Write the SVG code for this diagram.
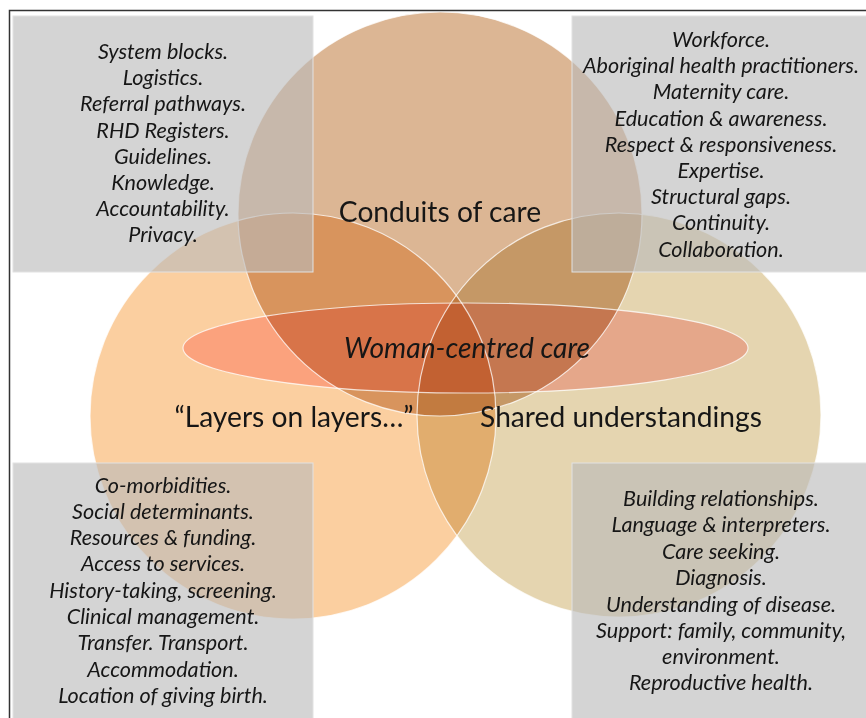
<svg xmlns="http://www.w3.org/2000/svg" width="866" height="718" viewBox="0 0 866 718">
<style>
.fill{mix-blend-mode:multiply}
.edge{fill:none;stroke:#ffffff;stroke-opacity:0.75;stroke-width:1.2}
.box{fill:#b9b9b9;fill-opacity:0.62;stroke:#e2e2e2;stroke-width:1}
.item{font-family:Lato,"Open Sans","Liberation Sans",sans-serif;font-style:italic;font-size:21.6px;fill:#161616;text-anchor:middle}
.label{font-family:Lato,"Open Sans","Liberation Sans",sans-serif;font-size:28.2px;fill:#161616;text-anchor:middle}
</style>
<rect x="0" y="0" width="866" height="718" fill="#ffffff"/>
<g style="isolation:isolate">
  <g id="circle-layers"><circle class="fill" cx="293" cy="416" r="203" fill="#fbcfa0"/></g>
  <g id="circle-shared"><circle class="fill" cx="619" cy="415" r="202" fill="#e5d5b0"/></g>
  <g id="circle-conduits"><circle class="fill" cx="440" cy="214" r="202" fill="#dcb694"/></g>
  <g id="ellipse-woman"><ellipse class="fill" cx="465.5" cy="348" rx="282.5" ry="45" fill="#ffc8c8"/></g>
</g>
<g id="outlines">
  <circle class="edge" cx="293" cy="416" r="203"/>
  <circle class="edge" cx="619" cy="415" r="202"/>
  <circle class="edge" cx="440" cy="214" r="202"/>
  <ellipse class="edge" cx="465.5" cy="348" rx="282.5" ry="45" stroke-opacity="0.95"/>
</g>
<g id="connectors"/>
<g id="labels">
  <text class="label" x="440" y="222">Conduits of care</text>
  <text class="label" x="294" y="427">“Layers on layers…”</text>
  <text class="label" x="621" y="427">Shared understandings</text>
  <text class="label" x="467" y="358" font-style="italic" font-size="29.5px">Woman-centred care</text>
</g>
<g id="box-system">
  <rect class="box" x="13" y="16" width="300" height="256"/>
  <text class="item" x="163" y="59">System blocks.</text>
  <text class="item" x="163" y="85.2">Logistics.</text>
  <text class="item" x="163" y="111.4">Referral pathways.</text>
  <text class="item" x="163" y="137.6">RHD Registers.</text>
  <text class="item" x="163" y="163.8">Guidelines.</text>
  <text class="item" x="163" y="190">Knowledge.</text>
  <text class="item" x="163" y="216.2">Accountability.</text>
  <text class="item" x="163" y="242.4">Privacy.</text>
</g>
<g id="box-workforce">
  <rect class="box" x="572" y="16" width="300" height="256"/>
  <text class="item" x="721" y="47">Workforce.</text>
  <text class="item" x="721" y="73.2">Aboriginal health practitioners.</text>
  <text class="item" x="721" y="99.4">Maternity care.</text>
  <text class="item" x="721" y="125.6">Education &amp; awareness.</text>
  <text class="item" x="721" y="151.8">Respect &amp; responsiveness.</text>
  <text class="item" x="721" y="178">Expertise.</text>
  <text class="item" x="721" y="204.2">Structural gaps.</text>
  <text class="item" x="721" y="230.4">Continuity.</text>
  <text class="item" x="721" y="256.6">Collaboration.</text>
</g>
<g id="box-comorbidities">
  <rect class="box" x="13" y="463" width="300" height="260"/>
  <text class="item" x="163" y="492.5">Co-morbidities.</text>
  <text class="item" x="163" y="518.8">Social determinants.</text>
  <text class="item" x="163" y="545.1">Resources &amp; funding.</text>
  <text class="item" x="163" y="571.4">Access to services.</text>
  <text class="item" x="163" y="597.7">History-taking, screening.</text>
  <text class="item" x="163" y="624">Clinical management.</text>
  <text class="item" x="163" y="650.3">Transfer. Transport.</text>
  <text class="item" x="163" y="676.6">Accommodation.</text>
  <text class="item" x="163" y="702.9">Location of giving birth.</text>
</g>
<g id="box-relationships">
  <rect class="box" x="572" y="463" width="300" height="260"/>
  <text class="item" x="721" y="505.5">Building relationships.</text>
  <text class="item" x="721" y="532">Language &amp; interpreters.</text>
  <text class="item" x="721" y="558.5">Care seeking.</text>
  <text class="item" x="721" y="585">Diagnosis.</text>
  <text class="item" x="721" y="611.5">Understanding of disease.</text>
  <text class="item" x="721" y="638">Support: family, community,</text>
  <text class="item" x="721" y="664">environment.</text>
  <text class="item" x="721" y="690">Reproductive health.</text>
</g>
<rect id="frame" x="9.5" y="10.5" width="900" height="800" fill="none" stroke="#333333" stroke-width="1.5"/>
</svg>
